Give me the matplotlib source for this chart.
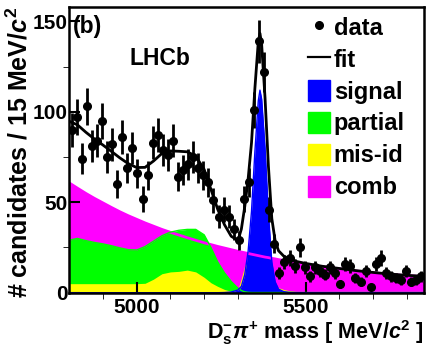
import numpy as np
import matplotlib.pyplot as plt
from matplotlib.patches import Patch
from matplotlib.lines import Line2D

plt.rcParams['font.family'] = 'Liberation Sans'
plt.rcParams['font.weight'] = 'bold'
plt.rcParams['mathtext.fontset'] = 'custom'
plt.rcParams['mathtext.rm'] = 'Liberation Sans:bold'
plt.rcParams['mathtext.it'] = 'Liberation Sans:italic:bold'
plt.rcParams['mathtext.bf'] = 'Liberation Sans:bold'

# data histogram, 15 MeV bins from 4800 to 5850
bin_lo = 4800
bin_w = 15
counts = [90, 97, 74, 103, 81, 84, 95, 75, 82, 60,
          86, 69, 80, 66, 52, 65, 83, 87, 79, 76,
          84, 64, 68, 71, 75, 69, 65, 61, 51, 42,
          46, 42, 35, 29, 52, 61, 101, 139, 122, 46,
          27, 11, 17, 19, 15, 25, 14, 9, 14, 12,
          10, 14, 11, 5, 16, 15, 8, 6, 12, 3,
          16, 19, 11, 9, 8, 7, 12, 6, 7, 9]

# fit components
m_grid = [4800, 4825, 4850, 4875, 4900, 4925, 4950, 4975, 5000, 5025,
          5050, 5075, 5100, 5125, 5150, 5175, 5200, 5220, 5240, 5260,
          5280, 5300, 5310, 5320, 5330, 5340, 5350, 5360, 5365, 5370,
          5380, 5390, 5400, 5410, 5420, 5435, 5450, 5475, 5500, 5550,
          5600, 5650, 5700, 5750, 5800, 5850]
comb = [60.8, 57.8, 54.9, 52.2, 49.7, 47.2, 44.8, 42.6, 40.6, 38.6,
        36.8, 35.0, 33.4, 31.9, 30.4, 29.0, 27.6, 26.6, 25.6, 24.7,
        23.8, 22.9, 22.5, 22.1, 21.7, 21.3, 20.9, 20.5, 20.3, 20.1,
        19.7, 19.4, 19.0, 18.7, 18.3, 17.8, 17.3, 16.5, 15.8, 14.4,
        13.2, 12.0, 11.0, 10.1, 9.4, 8.9]
partial = [29.0, 30.0, 28.8, 27.8, 27.0, 26.0, 24.8, 23.8, 23.6, 25.5,
           28.5, 31.5, 33.5, 34.5, 35.0, 35.0, 32.0, 25.0, 17.0, 11.0,
           6.2, 2.5, 1.2, 0.5, 0.2, 0.1, 0.1, 0.1, 0.1, 0.1,
           0.1, 0.1, 0.1, 0.1, 0.1, 0.1, 0.1, 0.1, 0.1, 0.1,
           0.1, 0.1, 0.1, 0.1, 0.1, 0.1]
misid = [5.0, 5.0, 5.0, 5.0, 5.0, 5.0, 5.0, 5.0, 5.0, 5.2,
         7.5, 10.5, 11.5, 11.8, 12.5, 11.5, 8.5, 5.5, 3.5, 1.8,
         0.8, 2.0, 8.0, 15.0, 18.0, 16.5, 14.0, 12.0, 11.0, 10.0,
         8.0, 6.5, 5.0, 3.8, 2.8, 1.8, 1.2, 0.6, 0.3, 0.1,
         0.1, 0.1, 0.1, 0.1, 0.1, 0.1]
signal = [0.0, 0.0, 0.0, 0.0, 0.0, 0.0, 0.0, 0.0, 0.0, 0.0,
          0.0, 0.0, 0.0, 0.0, 0.0, 0.0, 0.0, 0.0, 0.0, 0.1,
          0.4, 1.5, 3.5, 10.0, 23.0, 45.0, 78.0, 106.0, 112.0, 107.0,
          80.0, 44.0, 17.0, 6.0, 2.0, 0.6, 0.2, 0.0, 0.0, 0.0,
          0.0, 0.0, 0.0, 0.0, 0.0, 0.0]

m = np.array(m_grid)
total = np.array(comb) + np.array(partial) + np.array(misid) + np.array(signal)
centres = bin_lo + bin_w / 2 + bin_w * np.arange(len(counts))
y = np.array(counts)

fig = plt.figure(figsize=(4.26, 3.46), dpi=100)
ax = fig.add_axes([0.162, 0.154, 0.833, 0.826])

ax.fill_between(m, 0, comb, color='#ff00ff', lw=0)
ax.fill_between(m, 0, partial, color='#00ff00', lw=0)
ax.plot(m, comb, color='#ff00ff', lw=2)
ax.plot(m, partial, color='#00ff00', lw=1)
ax.fill_between(m, 0, misid, color='#ffff00', lw=0)
ax.fill_between(m, 0, signal, color='#0000ff', lw=0)
ax.plot(m, signal, color='#0000ff', lw=1)
ax.plot(m, total, color='black', lw=2)
ax.errorbar(centres, y, yerr=np.sqrt(y), fmt='o', color='black',
            ms=5.5, elinewidth=2, capsize=0)

ax.set_xlim(4800, 5850)
ax.set_ylim(0, 158)
ax.set_xticks([5000, 5500])
ax.set_xticks(np.arange(4900, 5850, 100), minor=True)
ax.set_yticks([0, 50, 100, 150])
ax.set_yticks([25, 75, 125], minor=True)
ax.tick_params(direction='in', labelsize=15, width=1.5)
ax.tick_params(axis='y', pad=1)
ax.tick_params(axis='x', pad=4)
ax.tick_params(which='major', length=8)
ax.tick_params(which='minor', length=4)
for s in ax.spines.values():
    s.set_linewidth(1.8)

ax.set_xlabel(r'D$_{\rm s}^{-}\pi^{+}$ mass [ MeV/$c^{2}$ ]', fontsize=15.5,
              fontweight='bold', loc='right')
ax.xaxis.set_label_coords(1.0, -0.088)
ax.set_ylabel(r'# candidates / 15 MeV/$c^{2}$', fontsize=18,
              fontweight='bold', loc='top', labelpad=0)

ax.text(0.01, 0.97, '(b)', transform=ax.transAxes, fontsize=16.5,
        fontweight='bold', va='top')
ax.text(0.17, 0.86, 'LHCb', transform=ax.transAxes, fontsize=16.5,
        fontweight='bold', va='top')

handles = [Line2D([], [], marker='o', color='black', ls='none', ms=5.5),
           Line2D([], [], color='black', lw=1.6),
           Patch(color='#0000ff'), Patch(color='#00ff00'),
           Patch(color='#ffff00'), Patch(color='#ff00ff')]
labels = ['data', 'fit', 'signal', 'partial', 'mis-id', 'comb']
ax.legend(handles, labels, loc='upper left', bbox_to_anchor=(0.673, 0.968),
          frameon=False, prop={'weight': 'bold', 'size': 17},
          handlelength=0.95, handleheight=1.0, handletextpad=0.15,
          labelspacing=0.35, borderpad=0, borderaxespad=0)

fig.savefig('out.png', dpi=100)
